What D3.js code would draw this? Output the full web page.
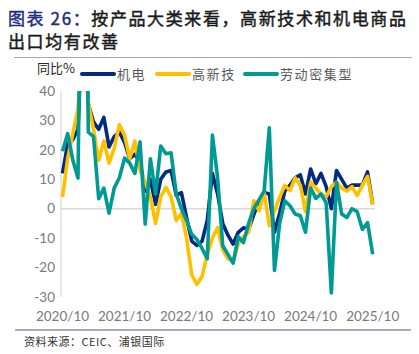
<!DOCTYPE html>
<html>
<head>
<meta charset="utf-8">
<script src="https://cdn.jsdelivr.net/npm/d3@7"></script>
<style>
  body { margin: 0; background: #fff; }
  svg { display: block; font-family: Lato, "Noto Sans CJK SC", sans-serif; }
</style>
</head>
<body>
<div id="chart"></div>
<script>
const width = 419, height = 354;

// months 2020/10 .. 2025/10
const months = [
  "2020/10","2020/11","2020/12","2021/01","2021/02","2021/03","2021/04","2021/05","2021/06","2021/07","2021/08","2021/09",
  "2021/10","2021/11","2021/12","2022/01","2022/02","2022/03","2022/04","2022/05","2022/06","2022/07","2022/08","2022/09",
  "2022/10","2022/11","2022/12","2023/01","2023/02","2023/03","2023/04","2023/05","2023/06","2023/07","2023/08","2023/09",
  "2023/10","2023/11","2023/12","2024/01","2024/02","2024/03","2024/04","2024/05","2024/06","2024/07","2024/08","2024/09",
  "2024/10","2024/11","2024/12","2025/01","2025/02","2025/03","2025/04","2025/05","2025/06","2025/07","2025/08","2025/09",
  "2025/10"
];
const xTicks = ["2020/10", "2021/10", "2022/10", "2023/10", "2024/10", "2025/10"];
const yTicks = [-30, -20, -10, 0, 10, 20, 30, 40];

// 机电
const jidian = [12, 22, 23.5, 27, 70, 35.5, 29.5, 27, 31, 21, 24.5, 26,
  22.5, 17, 18.5, 16, 6, 10, 1.5, 10, 12.5, 13, 4.5, 5.5,
  -3, -11, -12.5, -11, -4, 12, 5, -5, -9, -12, -8, -6.5,
  -7, -2, 2.5, 5.5, 5, -8, -1.5, 6, 8, 10.5, 11.5, 5,
  13.5, 8.5, 12, 7.5, 0, 13, 10, 7, 8, 8, 8, 12.5,
  1.5];
// 高新技
const gaoxin = [4, 17, 25.5, 34, 60, 36, 27, 16.5, 23, 15.5, 20.5, 28.5,
  25, 17, 23, 13, 9, 4, -5, 4, 7.3, 4, -4, -1.5,
  -10, -22.5, -25.7, -23, -15.5, -10, -6.4, -14, -17, -18, -12, -9.5,
  -8, 2.7, -0.7, 5.6, -5.8, -0.7, 3.9, 7.9, 6.2, 10.5, 8, -1,
  9, 7, 5, 4, 7.5, 9, 7, 6, 7.5, 4.5, 8, 11,
  1.5];
// 劳动密集型
const laodong = [19.5, 25.5, 16.5, 10.4, 150, 26, 24.5, 3.4, 7, -1.5, 7, 10.5,
  17.2, 15.5, 12, 22.7, -5.2, 17, 5, 21.3, 18.7, 19, 5, 0,
  -4, -8.7, -10.5, -13.5, -17, 25, 10.5, -12.6, -15.5, -18.5, -9.5, -11.5,
  -5, 0, 3, 6, 27.5, -21, -5, 2.7, 1, -1.8, -2.4, -8,
  7, 3.5, 5, 2, -28.6, 9, -1.8, -3, 0, -1, -7, -4.7,
  -15.5];

const seriesNames = ["机电", "高新技", "劳动密集型"];
const seriesData = [jidian, gaoxin, laodong];
const colors = ["#022a7e", "#ffc000", "#009a94"];

const svg = d3.select("#chart").append("svg")
  .attr("width", width).attr("height", height);

// title, two lines
const titleStyle = sel => sel
  .style("font-family", "'Noto Sans CJK SC', sans-serif")
  .style("font-size", "17px")
  .style("letter-spacing", "1.6px")
  .attr("stroke-width", 0.45);

const title = svg.append("text")
  .attr("x", 8).attr("y", 25)
  .call(titleStyle);
title.append("tspan").attr("fill", "#1d2f80").attr("stroke", "#1d2f80").text("图表 26：");
title.append("tspan").attr("fill", "#1a1a1a").attr("stroke", "#1a1a1a").text("按产品大类来看，高新技术和机电商品");
svg.append("text")
  .attr("x", 8).attr("y", 48)
  .attr("fill", "#1a1a1a").attr("stroke", "#1a1a1a")
  .call(titleStyle)
  .text("出口均有改善");

svg.append("line")
  .attr("x1", 14).attr("x2", 412).attr("y1", 57.5).attr("y2", 57.5)
  .attr("stroke", "#a6a3cc").attr("stroke-width", 1.2);

// scales
const x = d3.scalePoint().domain(months).range([62.5, 372.7]);
const y = d3.scaleLinear().domain([-30, 40]).range([297, 91]);

// y axis line and zero line
svg.append("line")
  .attr("x1", 61).attr("x2", 61).attr("y1", y(40)).attr("y2", y(-30))
  .attr("stroke", "#d9d9d9").attr("stroke-width", 1.2);
svg.append("line")
  .attr("x1", 61).attr("x2", 375).attr("y1", y(0)).attr("y2", y(0))
  .attr("stroke", "#d9d9d9").attr("stroke-width", 1.5);

svg.append("g")
  .selectAll("text")
  .data(yTicks)
  .join("text")
  .attr("x", 55)
  .attr("y", d => y(d))
  .attr("dy", "0.35em")
  .attr("text-anchor", "end")
  .attr("fill", "#7a7a7a")
  .style("font-size", "13.5px")
  .text(d => d);

svg.append("g")
  .selectAll("text")
  .data(xTicks)
  .join("text")
  .attr("x", d => x(d))
  .attr("y", 321)
  .attr("text-anchor", "middle")
  .attr("fill", "#7a7a7a")
  .style("font-size", "13.5px")
  .text(d => d);

// clip to plot (lines run off the top at 40)
svg.append("clipPath").attr("id", "plot-clip")
  .append("rect").attr("x", 55).attr("y", y(40)).attr("width", 330).attr("height", y(-30) - y(40) + 5);

const line = d3.line()
  .x((d, i) => x(months[i]))
  .y(d => y(d));

svg.append("g")
  .attr("clip-path", "url(#plot-clip)")
  .selectAll("path")
  .data(seriesData)
  .join("path")
  .attr("d", d => line(d))
  .attr("fill", "none")
  .attr("stroke", (d, i) => colors[i])
  .attr("stroke-width", 3.6)
  .attr("stroke-linejoin", "round");

// legend
svg.append("text")
  .attr("x", 37).attr("y", 73)
  .attr("fill", "#262626")
  .style("font-family", "'Noto Sans CJK SC', sans-serif")
  .style("font-size", "13px")
  .text("同比%");

const legendX = [82, 157, 245];
const lg = svg.append("g")
  .selectAll("g")
  .data(seriesNames)
  .join("g")
  .attr("transform", (d, i) => `translate(${legendX[i]},74)`);
lg.append("line")
  .attr("x1", 0).attr("x2", 32)
  .attr("stroke", (d, i) => colors[i])
  .attr("stroke-width", 4)
  .attr("stroke-linecap", "round");
lg.append("text")
  .attr("x", 35).attr("dy", "0.35em")
  .attr("fill", "#595959")
  .style("font-family", "'Noto Sans CJK SC', sans-serif")
  .style("font-size", "13px")
  .style("letter-spacing", "1.6px")
  .text(d => d);

// footer
svg.append("line")
  .attr("x1", 15).attr("x2", 411).attr("y1", 330).attr("y2", 330)
  .attr("stroke", "#5b4f9c").attr("stroke-width", 1.2);
svg.append("text")
  .attr("x", 24).attr("y", 346)
  .attr("fill", "#333")
  .style("font-family", "'Noto Sans CJK SC', sans-serif")
  .style("font-size", "11px")
  .style("letter-spacing", "0.5px")
  .text("资料来源：CEIC、浦银国际");
</script>
</body>
</html>
